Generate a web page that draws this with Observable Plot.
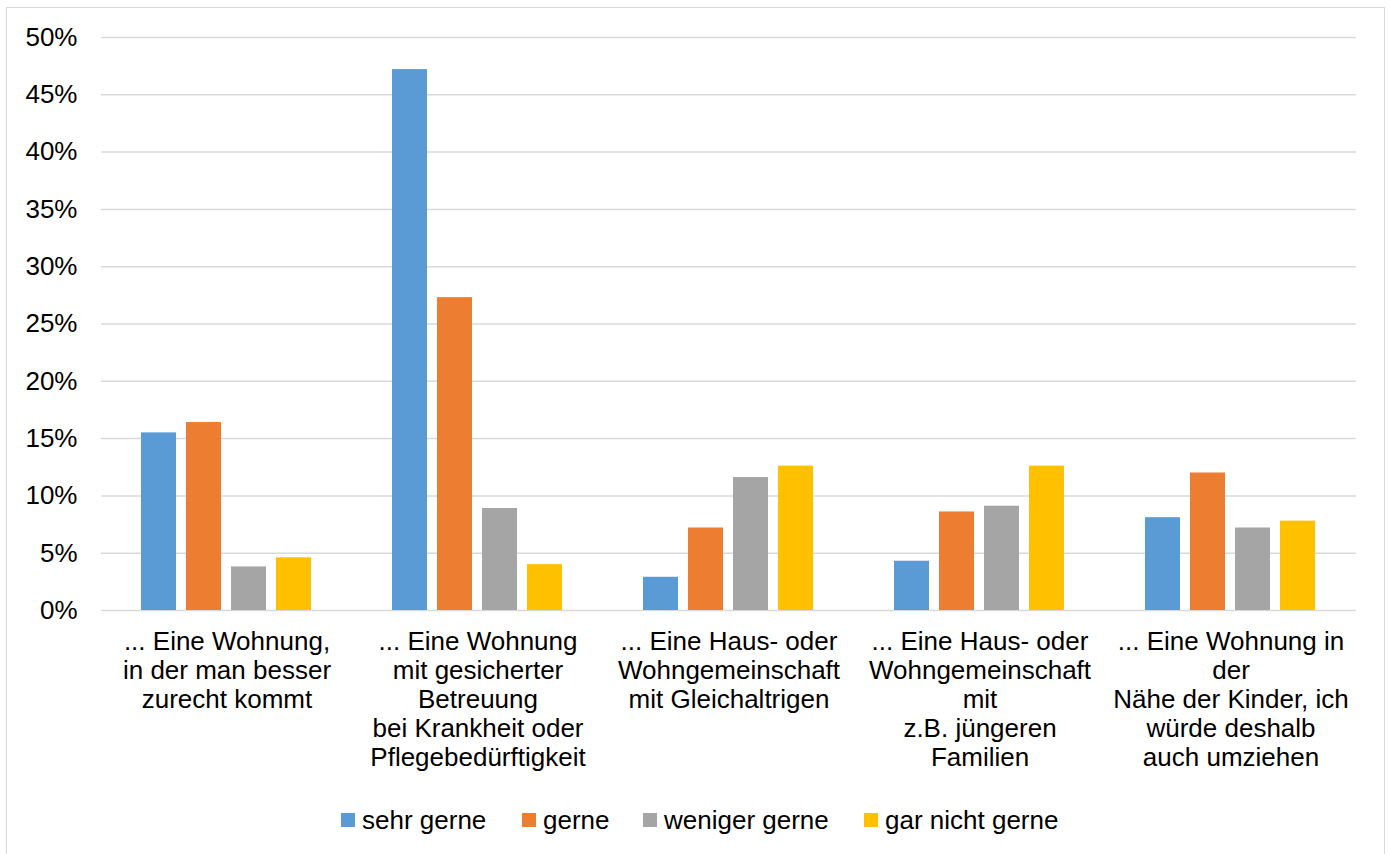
<!DOCTYPE html>
<html>
<head>
<meta charset="utf-8">
<script src="https://cdn.jsdelivr.net/npm/d3@7"></script>
<script src="https://cdn.jsdelivr.net/npm/@observablehq/plot@0.6"></script>
<style>
  html, body { margin: 0; padding: 0; background: #fff; }
  body { width: 1389px; height: 854px; position: relative; overflow: hidden; font-family: "Liberation Sans", Arial, sans-serif; }
  #frame { position: absolute; left: 6px; top: 7px; width: 1379px; height: 900px; border: 1.5px solid #d9d9d9; box-sizing: border-box; pointer-events: none; }
  #chart { position: absolute; left: 0; top: 0; }
  #legend { position: absolute; left: 0; top: 805px; width: 1389px; height: 30px; font-size: 26px; color: #000; }
  .item { position: absolute; top: 0; display: flex; align-items: center; height: 30px; white-space: nowrap; }
  .sw { width: 14px; height: 14px; margin-right: 7px; flex: none; }
</style>
</head>
<body>
<div id="chart"></div>
<div id="legend"></div>
<div id="frame"></div>
<script>
const categories = [
  "... Eine Wohnung,\nin der man besser\nzurecht kommt",
  "... Eine Wohnung\nmit gesicherter\nBetreuung\nbei Krankheit oder\nPflegebedürftigkeit",
  "... Eine Haus- oder\nWohngemeinschaft\nmit Gleichaltrigen",
  "... Eine Haus- oder\nWohngemeinschaft\nmit\nz.B. jüngeren\nFamilien",
  "... Eine Wohnung in\nder\nNähe der Kinder, ich\nwürde deshalb\nauch umziehen"
];
const seriesNames = ["sehr gerne", "gerne", "weniger gerne", "gar nicht gerne"];
const seriesColors = ["#5B9BD5", "#ED7D31", "#A5A5A5", "#FFC000"];
const sehrGerne = [15.5, 47.2, 2.9, 4.3, 8.1];
const gerne = [16.4, 27.3, 7.2, 8.6, 12.0];
const wenigerGerne = [3.8, 8.9, 11.6, 9.1, 7.2];
const garNichtGerne = [4.6, 4.0, 12.6, 12.6, 7.8];
const yTicks = [0, 5, 10, 15, 20, 25, 30, 35, 40, 45, 50];

const seriesValues = [sehrGerne, gerne, wenigerGerne, garNichtGerne];
const data = [];
categories.forEach((c, i) => {
  seriesNames.forEach((s, j) => {
    data.push({cat: c, series: s, value: seriesValues[j][i]});
  });
});

const chart = Plot.plot({
  width: 1389,
  height: 800,
  marginTop: 37,
  marginBottom: 190,
  marginLeft: 100,
  marginRight: 32,
  style: {fontFamily: "'Liberation Sans', Arial, sans-serif", fontSize: "26px", color: "#000", background: "transparent", overflow: "visible"},
  fx: {domain: categories, padding: 0, label: null},
  x: {domain: seriesNames, paddingInner: 0.22, paddingOuter: 0.865, axis: null},
  y: {domain: [0, 50], label: null},
  color: {domain: seriesNames, range: seriesColors},
  marks: [
    Plot.gridY(yTicks, {stroke: "#d9d9d9", strokeOpacity: 1, strokeWidth: 1.5}),
    Plot.axisY(yTicks, {tickFormat: d => d + "%", tickSize: 0, tickPadding: 24, fontSize: 26, label: null}),
    Plot.barY(data, {fx: "cat", x: "series", y: "value", fill: "series"}),
    Plot.axisFx({anchor: "bottom", tickSize: 0, tickPadding: 19, fontSize: 26, lineHeight: 1.115, lineAnchor: "top", label: null})
  ]
});
document.getElementById("chart").appendChild(chart);

const legendLefts = [341, 522, 643, 864];
const legend = document.getElementById("legend");
seriesNames.forEach((s, i) => {
  const item = document.createElement("div");
  item.className = "item";
  item.style.left = legendLefts[i] + "px";
  const sw = document.createElement("span");
  sw.className = "sw";
  sw.style.background = seriesColors[i];
  const t = document.createElement("span");
  t.textContent = s;
  item.appendChild(sw);
  item.appendChild(t);
  legend.appendChild(item);
});
</script>
</body>
</html>
